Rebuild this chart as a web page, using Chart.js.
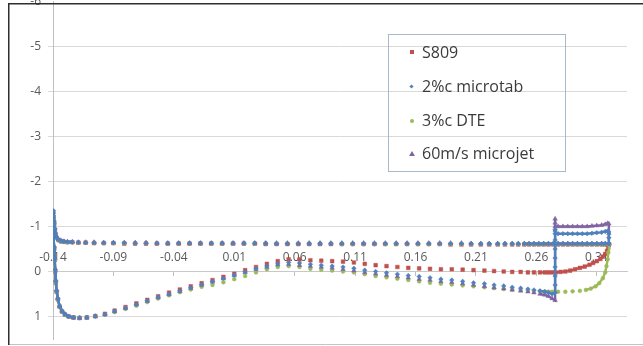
<!DOCTYPE html>
<html>
<head>
<meta charset="utf-8">
<title>Pressure coefficient distribution</title>
<script src="https://cdn.jsdelivr.net/npm/chart.js@4.4.1/dist/chart.umd.min.js"></script>
<style>
  html, body { margin: 0; padding: 0; background: #fff; }
  #wrap { position: relative; width: 643px; height: 346px; overflow: hidden; }
  #cp { position: absolute; left: 0; top: -3px; }
  #legend { position: absolute; left: 388px; top: 34px; width: 178px; height: 138px; box-sizing: border-box;
            border: 1px solid #a7b9cc; font-family: 'Open Sans', sans-serif; font-size: 16px; color: #3b3b3b; z-index: 3; }
  .row { position: absolute; left: 0; width: 170px; height: 20px; line-height: 20px; white-space: nowrap; }
  .mk { position: absolute; }
  .txt { position: absolute; left: 33px; top: 0; }
</style>
</head>
<body>
<div id="wrap">
  <canvas id="cp" width="643" height="349"></canvas>
  <div id="legend"></div>
</div>
<script>
// Axis tick values
const xTicks = [-0.14, -0.09, -0.04, 0.01, 0.06, 0.11, 0.16, 0.21, 0.26, 0.31];
const yTicks = [-6, -5, -4, -3, -2, -1, 0, 1];

const seriesNames = ['S809', '2%c microtab', '3%c DTE', '60m/s microjet'];

// Upper-surface stations, leading edge -> trailing edge
const upperX = [-0.14, -0.1395, -0.139, -0.1385, -0.138, -0.137, -0.1355, -0.1335, -0.131, -0.128, -0.124, -0.119,
  -0.113, -0.106, -0.098, -0.09, -0.081, -0.072, -0.063, -0.054, -0.045, -0.036, -0.027, -0.018,
  -0.009, 0.0, 0.009, 0.018, 0.027, 0.036, 0.045, 0.054, 0.063, 0.072, 0.081, 0.09,
  0.099, 0.108, 0.117, 0.126, 0.135, 0.144, 0.153, 0.162, 0.171, 0.18, 0.189, 0.198,
  0.206, 0.214, 0.221, 0.228, 0.234, 0.24, 0.245, 0.25, 0.254, 0.258, 0.262, 0.266,
  0.27, 0.274, 0.278, 0.282, 0.286, 0.29, 0.294, 0.298, 0.302, 0.306, 0.31, 0.314, 0.317, 0.32];

// Lower-surface stations, leading edge -> x = 0.273
const lowerX = [-0.1398, -0.1394, -0.139, -0.1386, -0.1382, -0.1377, -0.137, -0.136, -0.1345, -0.1325,
  -0.13, -0.127, -0.123, -0.118, -0.112, -0.105, -0.097, -0.089, -0.08, -0.071,
  -0.062, -0.053, -0.044, -0.035, -0.026, -0.017, -0.008, 0.001, 0.01, 0.019,
  0.028, 0.037, 0.046, 0.055, 0.064, 0.073, 0.082, 0.091, 0.1, 0.109,
  0.118, 0.127, 0.136, 0.145, 0.154, 0.163, 0.172, 0.181, 0.19, 0.199,
  0.208, 0.217, 0.225, 0.233, 0.24, 0.247, 0.253, 0.258, 0.263, 0.267, 0.27, 0.273];

// S809 baseline
const s809Upper = [-1.1, -1.22, -1.05, -0.92, -0.83, -0.75, -0.7, -0.67, -0.66, -0.65, -0.65, -0.64,
  -0.64, -0.63, -0.63, -0.63, -0.62, -0.62, -0.62, -0.62, -0.62, -0.62, -0.62, -0.62,
  -0.62, -0.62, -0.62, -0.62, -0.62, -0.61, -0.61, -0.61, -0.61, -0.61, -0.61, -0.61,
  -0.61, -0.61, -0.61, -0.61, -0.61, -0.61, -0.61, -0.61, -0.61, -0.61, -0.6, -0.6,
  -0.6, -0.6, -0.6, -0.6, -0.6, -0.6, -0.6, -0.6, -0.6, -0.6, -0.6, -0.6,
  -0.6, -0.6, -0.6, -0.6, -0.6, -0.6, -0.6, -0.6, -0.6, -0.6, -0.6, -0.6, -0.6, -0.6];
const s809Lower = [-1.0, -0.75, -0.5, -0.25, 0.0, 0.25, 0.45, 0.62, 0.78, 0.89,
  0.96, 1.0, 1.02, 1.03, 1.02, 0.99, 0.94, 0.87, 0.79, 0.71,
  0.63, 0.55, 0.47, 0.4, 0.33, 0.26, 0.19, 0.12, 0.05, -0.03,
  -0.1, -0.17, -0.23, -0.27, -0.27, -0.25, -0.24, -0.23, -0.22, -0.2,
  -0.17, -0.14, -0.12, -0.1, -0.08, -0.07, -0.06, -0.05, -0.05, -0.04,
  -0.03, -0.02, -0.01, 0.0, 0.01, 0.01, 0.02, 0.02, 0.02, 0.02, 0.02, 0.02];
const s809TailX = [0.276, 0.28, 0.284, 0.288, 0.292, 0.296, 0.3, 0.304, 0.307, 0.31, 0.313, 0.315, 0.317, 0.3185, 0.3195, 0.32];
const s809TailCp = [0.02, 0.01, 0.0, -0.02, -0.05, -0.08, -0.11, -0.15, -0.19, -0.23, -0.28, -0.33, -0.39, -0.46, -0.53, -0.6];

// 2%c microtab
const tabUpper = [-1.2, -1.35, -1.12, -0.96, -0.85, -0.76, -0.71, -0.68, -0.67, -0.66, -0.65, -0.65,
  -0.64, -0.64, -0.64, -0.64, -0.64, -0.63, -0.63, -0.63, -0.63, -0.63, -0.63, -0.63,
  -0.63, -0.63, -0.63, -0.63, -0.63, -0.63, -0.62, -0.62, -0.62, -0.62, -0.62, -0.62,
  -0.62, -0.62, -0.62, -0.62, -0.62, -0.62, -0.62, -0.62, -0.62, -0.62, -0.62, -0.62,
  -0.62, -0.62, -0.62, -0.62, -0.62, -0.62, -0.62, -0.62, -0.62, -0.62, -0.62, -0.62,
  -0.62, -0.62, -0.62, -0.62, -0.62, -0.62, -0.62, -0.62, -0.62, -0.62, -0.62, -0.62, -0.62, -0.62];
const tabLower = [-1.05, -0.8, -0.55, -0.3, -0.05, 0.2, 0.42, 0.6, 0.77, 0.88,
  0.95, 1.0, 1.02, 1.03, 1.02, 0.99, 0.95, 0.88, 0.81, 0.73,
  0.65, 0.57, 0.5, 0.43, 0.36, 0.29, 0.22, 0.15, 0.08, 0.01,
  -0.06, -0.12, -0.17, -0.2, -0.19, -0.16, -0.14, -0.12, -0.1, -0.07,
  -0.03, 0.0, 0.03, 0.06, 0.09, 0.11, 0.14, 0.17, 0.19, 0.22,
  0.25, 0.27, 0.3, 0.32, 0.35, 0.37, 0.39, 0.41, 0.43, 0.45, 0.47, 0.5];
const tabTailX = [0.2755, 0.2755, 0.2755, 0.2755, 0.2755, 0.2755, 0.2755, 0.2755, 0.2755, 0.2755,
  0.278, 0.282, 0.286, 0.29, 0.294, 0.298, 0.302, 0.306, 0.31, 0.314, 0.317, 0.319, 0.32, 0.32, 0.32];
const tabTailCp = [0.47, 0.3, 0.1, -0.1, -0.3, -0.5, -0.7, -0.9, -0.93, -0.84,
  -0.84, -0.84, -0.84, -0.84, -0.84, -0.84, -0.84, -0.85, -0.86, -0.87, -0.89, -0.9, -0.88, -0.75, -0.62];

// 3%c DTE
const dteUpper = [-1.08, -1.2, -1.04, -0.9, -0.81, -0.74, -0.69, -0.67, -0.66, -0.65, -0.65, -0.64,
  -0.64, -0.64, -0.63, -0.63, -0.63, -0.63, -0.63, -0.62, -0.62, -0.62, -0.62, -0.62,
  -0.62, -0.62, -0.62, -0.62, -0.62, -0.62, -0.62, -0.62, -0.62, -0.62, -0.62, -0.62,
  -0.61, -0.61, -0.61, -0.61, -0.61, -0.61, -0.61, -0.61, -0.61, -0.61, -0.61, -0.61,
  -0.61, -0.61, -0.61, -0.61, -0.61, -0.61, -0.61, -0.61, -0.61, -0.61, -0.61, -0.61,
  -0.61, -0.61, -0.61, -0.61, -0.61, -0.61, -0.61, -0.61, -0.61, -0.61, -0.61, -0.61, -0.61, -0.61];
const dteLower = [-1.0, -0.75, -0.5, -0.25, 0.0, 0.25, 0.45, 0.62, 0.78, 0.89,
  0.96, 1.0, 1.02, 1.03, 1.02, 1.0, 0.96, 0.9, 0.83, 0.76,
  0.68, 0.6, 0.53, 0.46, 0.4, 0.34, 0.3, 0.24, 0.17, 0.1,
  0.02, -0.05, -0.1, -0.12, -0.1, -0.06, -0.04, -0.02, 0.0, 0.02,
  0.06, 0.1, 0.13, 0.16, 0.19, 0.22, 0.25, 0.27, 0.29, 0.31,
  0.33, 0.35, 0.37, 0.39, 0.4, 0.41, 0.42, 0.43, 0.44, 0.44, 0.45, 0.45];
const dteTailX = [0.278, 0.284, 0.29, 0.296, 0.301, 0.305, 0.309, 0.312, 0.315, 0.317, 0.318, 0.319, 0.3195, 0.32];
const dteTailCp = [0.45, 0.45, 0.44, 0.43, 0.41, 0.38, 0.33, 0.26, 0.15, 0.02, -0.12, -0.27, -0.42, -0.6];

// 60m/s microjet
const jetUpper = [-1.18, -1.32, -1.1, -0.95, -0.84, -0.76, -0.71, -0.69, -0.67, -0.66, -0.66, -0.65,
  -0.65, -0.65, -0.64, -0.64, -0.64, -0.64, -0.64, -0.63, -0.63, -0.63, -0.63, -0.63,
  -0.63, -0.63, -0.63, -0.63, -0.63, -0.63, -0.63, -0.63, -0.63, -0.63, -0.63, -0.63,
  -0.63, -0.63, -0.63, -0.63, -0.63, -0.63, -0.63, -0.63, -0.63, -0.63, -0.63, -0.63,
  -0.62, -0.62, -0.62, -0.62, -0.62, -0.62, -0.62, -0.62, -0.62, -0.62, -0.62, -0.62,
  -0.62, -0.62, -0.62, -0.62, -0.62, -0.62, -0.62, -0.62, -0.62, -0.62, -0.62, -0.62, -0.62, -0.62];
const jetLower = [-1.05, -0.8, -0.55, -0.3, -0.05, 0.2, 0.42, 0.6, 0.77, 0.88,
  0.95, 1.0, 1.03, 1.04, 1.03, 1.0, 0.96, 0.89, 0.82, 0.74,
  0.66, 0.58, 0.51, 0.44, 0.37, 0.3, 0.23, 0.16, 0.09, 0.02,
  -0.05, -0.1, -0.15, -0.16, -0.14, -0.12, -0.1, -0.08, -0.05, -0.02,
  0.02, 0.05, 0.08, 0.11, 0.14, 0.17, 0.19, 0.22, 0.24, 0.27,
  0.3, 0.33, 0.36, 0.38, 0.41, 0.43, 0.45, 0.47, 0.5, 0.52, 0.55, 0.6];
const jetTailX = [0.2755, 0.2755, 0.2755, 0.2755, 0.278, 0.282, 0.286, 0.29, 0.294, 0.298,
  0.302, 0.306, 0.31, 0.314, 0.317, 0.319, 0.32, 0.32, 0.32];
const jetTailCp = [0.64, -1.17, -1.08, -1.0, -1.0, -1.0, -1.0, -1.0, -1.0, -1.0,
  -1.0, -1.01, -1.02, -1.03, -1.05, -1.07, -1.06, -0.85, -0.62];

// Closed contour: trailing edge -> upper surface -> leading edge -> lower surface -> trailing edge
function contour(upper, lower, tailX, tailCp) {
  const pts = [];
  for (let i = upperX.length - 1; i >= 0; i--) pts.push({ x: upperX[i], y: upper[i] });
  for (let i = 0; i < lowerX.length; i++) pts.push({ x: lowerX[i], y: lower[i] });
  for (let i = 0; i < tailX.length; i++) pts.push({ x: tailX[i], y: tailCp[i] });
  return pts;
}

const seriesData = [
  contour(s809Upper, s809Lower, s809TailX, s809TailCp),
  contour(tabUpper, tabLower, tabTailX, tabTailCp),
  contour(dteUpper, dteLower, dteTailX, dteTailCp),
  contour(jetUpper, jetLower, jetTailX, jetTailCp)
];

const colors = ['#c0504d', '#4f81bd', '#9bbb59', '#8064a2'];
const shapes = ['rect', 'rectRot', 'circle', 'triangle'];
const radii = [2.6, 2.3, 1.9, 2.6];
const drawOrder = [3, 0, 2, 1];

// markers only where points are sparse; dense runs read as a solid trace
const datasets = seriesData.map((pts, i) => ({
  label: seriesNames[i],
  data: pts,
  showLine: true,
  borderWidth: 2.4,
  borderColor: colors[i],
  backgroundColor: colors[i],
  pointBackgroundColor: colors[i],
  pointBorderColor: colors[i],
  pointBorderWidth: 0.5,
  pointStyle: shapes[i],
  pointRadius: radii[i],
  tension: 0,
  order: drawOrder[i],
  segment: {
    borderColor: ctx => Math.abs(ctx.p1.x - ctx.p0.x) < 5.5 ? colors[i] : 'rgba(0,0,0,0)'
  }
}));

// outer chart border: dark left and top edges, light bottom edge
const chartBorder = {
  id: 'chartBorder',
  afterDraw(chart) {
    const ctx = chart.ctx;
    ctx.save();
    ctx.lineWidth = 1;
    ctx.strokeStyle = '#c4c4c4';
    ctx.beginPath();
    ctx.moveTo(8, 347.5);
    ctx.lineTo(643, 347.5);
    ctx.stroke();
    ctx.lineWidth = 1.5;
    ctx.strokeStyle = '#2e2e2e';
    ctx.beginPath();
    ctx.moveTo(8.75, 348);
    ctx.lineTo(8.75, 6.75);
    ctx.lineTo(643, 6.75);
    ctx.stroke();
    ctx.restore();
  }
};

const tickFont = { family: "'Open Sans', sans-serif", size: 12 };

new Chart(document.getElementById('cp'), {
  type: 'scatter',
  data: { datasets },
  plugins: [chartBorder],
  options: {
    responsive: false,
    animation: false,
    layout: { padding: { left: 0, right: 16, top: 0, bottom: 7 } },
    plugins: { legend: { display: false }, tooltip: { enabled: false } },
    scales: {
      x: {
        type: 'linear',
        min: -0.14,
        max: 0.335,
        position: { y: 0 },
        afterBuildTicks: s => { s.ticks = xTicks.map(v => ({ value: v })); },
        afterFit: s => { s.paddingLeft = 0; s.paddingRight = 0; s.paddingTop = 0; s.paddingBottom = 0; },
        grid: { display: true, drawOnChartArea: false, drawTicks: true, tickLength: 4, color: '#bfbfbf' },
        border: { display: true, color: '#c8c8c8' },
        ticks: {
          padding: -25,
          maxRotation: 0,
          autoSkip: false,
          color: '#595959',
          font: tickFont,
          callback: v => Number(v).toFixed(2)
        }
      },
      y: {
        type: 'linear',
        reverse: true,
        min: -6,
        max: 1.5,
        afterBuildTicks: s => { s.ticks = yTicks.map(v => ({ value: v })); },
        afterFit: s => { s.width = 53; s.paddingTop = 0; s.paddingBottom = 0; },
        grid: {
          color: c => (c.tick && c.tick.value === -6) ? 'rgba(0,0,0,0)' : '#d9d9d9',
          tickLength: 5
        },
        border: { display: true, color: '#bfbfbf' },
        ticks: {
          padding: 7,
          color: '#595959',
          font: tickFont,
          callback: v => String(v)
        }
      }
    }
  }
});

// legend box
const legend = document.getElementById('legend');
const rowCenters = [18, 52, 86, 119];
seriesNames.forEach((name, i) => {
  const row = document.createElement('div');
  row.className = 'row';
  row.style.top = (rowCenters[i] - 11) + 'px';
  const mk = document.createElement('span');
  mk.className = 'mk';
  const c = colors[i];
  if (shapes[i] === 'triangle') {
    mk.style.cssText = `left:20px;top:8px;width:0;height:0;border-left:3px solid transparent;border-right:3px solid transparent;border-bottom:5px solid ${c};`;
  } else if (shapes[i] === 'rectRot') {
    mk.style.cssText = `left:21px;top:9px;width:3px;height:3px;background:${c};transform:rotate(45deg);`;
  } else if (shapes[i] === 'circle') {
    mk.style.cssText = `left:21px;top:9px;width:4px;height:4px;border-radius:50%;background:${c};`;
  } else {
    mk.style.cssText = `left:21px;top:8px;width:4px;height:4px;background:${c};`;
  }
  const txt = document.createElement('span');
  txt.className = 'txt';
  txt.textContent = name;
  row.appendChild(mk);
  row.appendChild(txt);
  legend.appendChild(row);
});
</script>
</body>
</html>
